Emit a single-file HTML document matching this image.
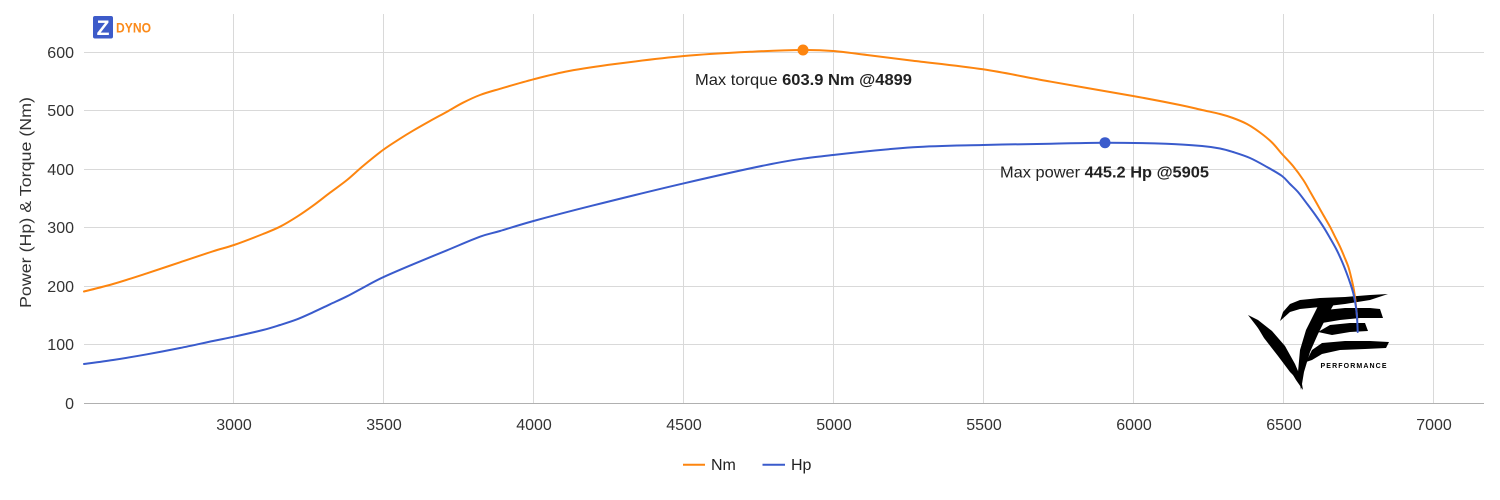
<!DOCTYPE html>
<html>
<head>
<meta charset="utf-8">
<style>
  html,body{margin:0;padding:0;background:#fff;}
  svg{display:block;}
  text{font-family:"Liberation Sans","DejaVu Sans",sans-serif;}
</style>
</head>
<body>
<svg id="chart" width="1500" height="500" viewBox="0 0 1500 500" xmlns="http://www.w3.org/2000/svg">
  <rect width="1500" height="500" fill="#fff"/>

  <!-- vertical gridlines -->
  <g stroke="#d9d9d9" stroke-width="1">
    <line x1="233.5" y1="14" x2="233.5" y2="403"/>
    <line x1="383.5" y1="14" x2="383.5" y2="403"/>
    <line x1="533.5" y1="14" x2="533.5" y2="403"/>
    <line x1="683.5" y1="14" x2="683.5" y2="403"/>
    <line x1="833.5" y1="14" x2="833.5" y2="403"/>
    <line x1="983.5" y1="14" x2="983.5" y2="403"/>
    <line x1="1133.5" y1="14" x2="1133.5" y2="403"/>
    <line x1="1283.5" y1="14" x2="1283.5" y2="403"/>
    <line x1="1433.5" y1="14" x2="1433.5" y2="403"/>
  </g>
  <!-- horizontal gridlines -->
  <g stroke="#d9d9d9" stroke-width="1">
    <line x1="84" y1="52.5" x2="1484" y2="52.5"/>
    <line x1="84" y1="110.5" x2="1484" y2="110.5"/>
    <line x1="84" y1="169.5" x2="1484" y2="169.5"/>
    <line x1="84" y1="227.5" x2="1484" y2="227.5"/>
    <line x1="84" y1="286.5" x2="1484" y2="286.5"/>
    <line x1="84" y1="344.5" x2="1484" y2="344.5"/>
  </g>
  <line x1="84" y1="403.5" x2="1484" y2="403.5" stroke="#b0b0b0" stroke-width="1"/>

  <!-- Y tick labels -->
  <g font-size="16" fill="#333" text-anchor="end">
    <text x="74" y="58">600</text>
    <text x="74" y="116">500</text>
    <text x="74" y="175">400</text>
    <text x="74" y="233">300</text>
    <text x="74" y="292">200</text>
    <text x="74" y="350">100</text>
    <text x="74" y="409">0</text>
  </g>
  <!-- X tick labels -->
  <g font-size="16" fill="#333" text-anchor="middle">
    <text x="234" y="430">3000</text>
    <text x="384" y="430">3500</text>
    <text x="534" y="430">4000</text>
    <text x="684" y="430">4500</text>
    <text x="834" y="430">5000</text>
    <text x="984" y="430">5500</text>
    <text x="1134" y="430">6000</text>
    <text x="1284" y="430">6500</text>
    <text x="1434" y="430">7000</text>
  </g>

  <!-- Y axis title -->
  <text transform="translate(31,202.5) rotate(-90)" font-size="16" fill="#333" text-anchor="middle" textLength="211" lengthAdjust="spacingAndGlyphs">Power (Hp) &amp; Torque (Nm)</text>

  <!-- ZDYNO logo -->
  <rect x="93" y="16" width="20" height="22.5" rx="2" fill="#3d5bc9"/>
  <text x="103" y="35" font-size="21" font-weight="bold" fill="#fff" text-anchor="middle">Z</text>
  <text x="116" y="32.3" font-size="13.5" font-weight="bold" fill="#fb8a1a" textLength="35" lengthAdjust="spacingAndGlyphs">DYNO</text>

  <!-- ZE Performance watermark -->
  <g fill="#000">
    <polygon points="1248,315 1258,320 1272,331 1285,346 1295,364 1301,378 1303,390 1296,380 1284,360 1270,343 1258,328"/>
    <polygon points="1252,318 1262,326 1276,342 1288,360 1296,378 1290,372 1278,356 1264,338"/>
    <polygon points="1318,306 1334,304 1326,318 1318,334 1310,352 1304,372 1301,390 1298,372 1300,350 1306,330"/>
    <polygon points="1280,321 1283,312 1290,304 1300,300 1320,298 1345,297 1370,295 1388,294 1370,300 1345,304 1320,307 1300,309 1290,312"/>
    <polygon points="1316,316 1325,310 1345,308 1370,308 1380,309 1383,318 1360,318 1340,320 1322,323"/>
    <polygon points="1318,332 1330,325 1350,323 1365,323 1368,331 1350,332 1332,335"/>
    <polygon points="1306,362 1312,350 1322,343 1345,341 1370,341 1389,342 1386,348 1365,349 1340,350 1322,354 1312,360"/>
    <text x="1353.5" y="368" font-size="7" font-weight="bold" text-anchor="middle" textLength="66" lengthAdjust="spacing">PERFORMANCE</text>
  </g>

  <!-- Torque (Nm) -->
  <polyline id="nm" fill="none" stroke="#fd850f" stroke-width="2" stroke-linejoin="round" stroke-linecap="round"
    points="84,291.5 113,284 147,273.3 180,262.3 213,251.3 234,245 263,234 280,226.7 297,216.7 313,205.7 330,192.7 347,180 363,166 383,150 400,138.7 413,130.7 430,121 447,111.7 463,102.7 480,95 500,88.8 533.5,79.3 569,71 615,64 684,56 752,51.7 803,50 833,51 867,55 913,60.7 983,69.3 1051,81.7 1133,96 1180,105 1202,110 1220,114 1233,118 1247,124 1260,132.5 1272,142.5 1282,154 1293,166 1303.3,180 1310,191.5 1316.7,203.3 1323.3,215 1330,226.7 1335,236.7 1340,246.7 1344.3,256.7 1348.3,266.7 1351,276.7 1353.3,286.7 1354.7,295 1355.7,303.3 1356.7,313 1357.2,320"/>
  <!-- Power (Hp) -->
  <polyline id="hp" fill="none" stroke="#3a5bcc" stroke-width="2" stroke-linejoin="round" stroke-linecap="round"
    points="84,364 113,360 147,354.3 180,348 213,341 234,336.7 263,330 280,325 297,319.3 313,312.3 330,304.3 347,296.3 363,287.7 383,277.3 413,264.3 447,250.3 480,236.7 500,231 533.5,221 592,205.7 684,183.3 775,163.3 833,155 913,147.3 983,145 1051,143.7 1105,142.7 1166,143.7 1202,146 1220,148.5 1233,152 1250,158 1267,167 1282,176 1290,184 1298,192 1306.7,203.3 1315,214.5 1323.3,226.7 1330,238 1336.7,250 1342,261.5 1346.7,273.3 1350.5,284 1353.3,293.3 1355.3,303 1356.7,313.3 1357.3,322 1357.7,332"/>

  <!-- markers -->
  <circle cx="803" cy="50" r="5.5" fill="#fd850f"/>
  <circle cx="1105" cy="142.7" r="5.5" fill="#3a5bcc"/>

  <!-- annotations -->
  <text x="695" y="85" font-size="16" fill="#222" textLength="217" lengthAdjust="spacingAndGlyphs">Max torque <tspan font-weight="bold">603.9 Nm @4899</tspan></text>
  <text x="1000" y="177.5" font-size="16" fill="#222" textLength="209" lengthAdjust="spacingAndGlyphs">Max power <tspan font-weight="bold">445.2 Hp @5905</tspan></text>

  <!-- legend -->
  <line x1="683" y1="464.7" x2="705" y2="464.7" stroke="#fd850f" stroke-width="2"/>
  <text x="711" y="470" font-size="16" fill="#222">Nm</text>
  <line x1="762.5" y1="464.7" x2="785" y2="464.7" stroke="#3a5bcc" stroke-width="2"/>
  <text x="791" y="470" font-size="16" fill="#222">Hp</text>
</svg>
<script>
(function(){
  ['nm','hp'].forEach(function(id){
    var pl=document.getElementById(id);
    if(!pl) return;
    var raw=pl.getAttribute('points').trim().split(/\s+/).map(function(s){var a=s.split(',');return [parseFloat(a[0]),parseFloat(a[1])];});
    var d='M'+raw[0][0]+','+raw[0][1];
    for(var i=0;i<raw.length-1;i++){
      var p0=raw[i-1]||raw[i],p1=raw[i],p2=raw[i+1],p3=raw[i+2]||p2;
      var c1x=p1[0]+(p2[0]-p0[0])/6,c1y=p1[1]+(p2[1]-p0[1])/6;
      var c2x=p2[0]-(p3[0]-p1[0])/6,c2y=p2[1]-(p3[1]-p1[1])/6;
      d+=' C'+c1x.toFixed(2)+','+c1y.toFixed(2)+' '+c2x.toFixed(2)+','+c2y.toFixed(2)+' '+p2[0]+','+p2[1];
    }
    var path=document.createElementNS('http://www.w3.org/2000/svg','path');
    ['fill','stroke','stroke-width','stroke-linejoin','stroke-linecap'].forEach(function(a){path.setAttribute(a,pl.getAttribute(a));});
    path.setAttribute('d',d);
    pl.parentNode.replaceChild(path,pl);
  });
})();
</script>
</body>
</html>
